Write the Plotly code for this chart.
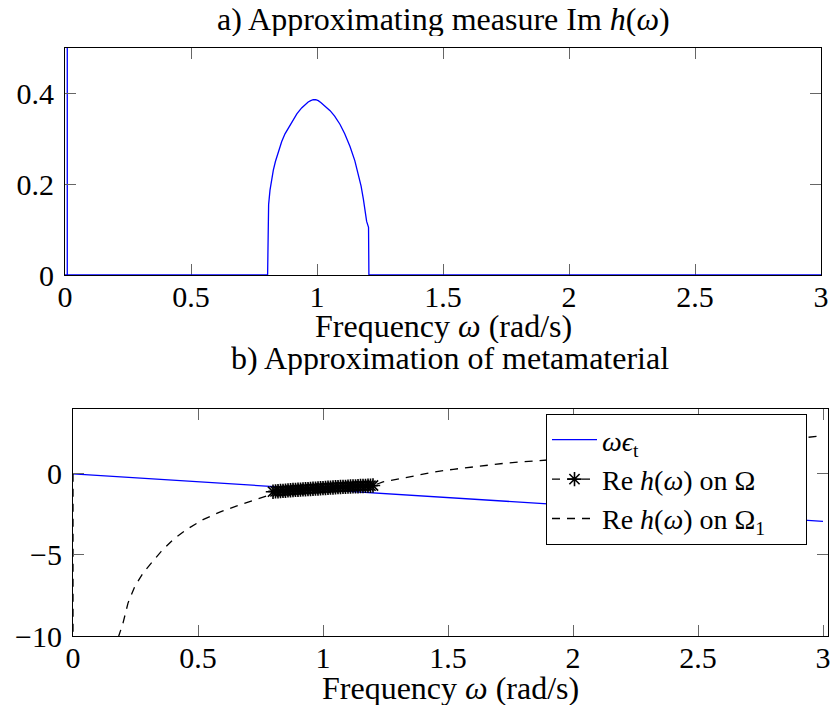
import plotly.graph_objects as go

# ---- panel a) Im h(omega) ----
omega_a = [0.0, 0.009, 0.009, 0.009, 0.804, 0.805, 0.808, 0.8135, 0.82, 0.8267, 0.835,
           0.8466, 0.86, 0.873, 0.89, 0.906, 0.92, 0.939, 0.955, 0.965, 0.975, 0.985, 0.995,
           1.005, 1.015, 1.03, 1.052, 1.07, 1.091, 1.11, 1.131, 1.15, 1.164, 1.175, 1.184,
           1.192, 1.197, 1.2045, 1.206, 3.0]
im_a = [0.0, 0.0, 0.6, 0.0, 0.0, 0.12, 0.155, 0.187, 0.212, 0.231, 0.250,
        0.273, 0.294, 0.311, 0.328, 0.343, 0.355, 0.368, 0.377, 0.381, 0.384, 0.386, 0.386,
        0.384, 0.380, 0.373, 0.362, 0.350, 0.332, 0.311, 0.283, 0.252, 0.224, 0.196, 0.167,
        0.140, 0.118, 0.105, 0.0, 0.0]

# ---- panel b) ----
omega_t = [0.0, 3.0]
eps_line = [0.0, -2.925]

omega_b = [0.80, 0.81, 0.82, 0.83, 0.84, 0.85, 0.86, 0.87, 0.88, 0.89, 0.90,
           0.91, 0.92, 0.93, 0.94, 0.95, 0.96, 0.97, 0.98, 0.99, 1.00,
           1.01, 1.02, 1.03, 1.04, 1.05, 1.06, 1.07, 1.08, 1.09, 1.10,
           1.11, 1.12, 1.13, 1.14, 1.15, 1.16, 1.17, 1.18, 1.19, 1.20]
re_b = [-1.10, -1.08, -1.07, -1.06, -1.05, -1.04, -1.02, -1.01, -1.00, -0.99, -0.98,
        -0.97, -0.96, -0.95, -0.94, -0.93, -0.92, -0.91, -0.90, -0.89, -0.88,
        -0.87, -0.86, -0.85, -0.84, -0.83, -0.82, -0.81, -0.80, -0.80, -0.79,
        -0.78, -0.77, -0.77, -0.76, -0.75, -0.75, -0.74, -0.73, -0.73, -0.72]

omega_c = [0.0, 0.0, 0.17, 0.183, 0.2, 0.22, 0.247, 0.28, 0.313, 0.353, 0.4, 0.453,
           0.52, 0.587, 0.653, 0.72, 0.773, 0.8, 0.9, 1.0, 1.1, 1.2, 1.24, 1.32,
           1.388, 1.455, 1.521, 1.588, 1.655, 1.72, 1.788, 1.888, 2.0, 2.25, 2.5,
           2.75, 3.0]
re_c = [0.0, -12.0, -11.0, -10.0, -9.21, -7.97, -6.95, -6.12, -5.5, -4.78, -4.06, -3.44,
        -2.82, -2.36, -1.99, -1.64, -1.37, -1.12, -0.99, -0.88, -0.79, -0.72, -0.5, -0.25,
        -0.03, 0.14, 0.28, 0.41, 0.53, 0.64, 0.73, 0.85, 0.97, 1.25, 1.6,
        1.95, 2.35]

x_ticks = [0, 0.5, 1, 1.5, 2, 2.5, 3]
x_ticktext = ["0", "0.5", "1", "1.5", "2", "2.5", "3"]
ya_ticks = [0, 0.2, 0.4]
ya_ticktext = ["0", "0.2", "0.4"]
yb_ticks = [0, -5, -10]
yb_ticktext = ["0", "\u22125", "\u221210"]

FONT = "Liberation Serif"
TICK_SIZE = 30
TEXT_SIZE = 32
LEGEND_SIZE = 28

fig = go.Figure()
fig.add_trace(go.Scatter(x=omega_a, y=im_a, mode="lines", line=dict(color="#0000ff", width=1.3),
                         showlegend=False, xaxis="x", yaxis="y"))
fig.add_trace(go.Scatter(x=omega_t, y=eps_line, mode="lines", line=dict(color="#0000ff", width=1.3),
                         name="<i>ωϵ</i><sub>t</sub>", legendrank=1, xaxis="x2", yaxis="y2"))
fig.add_trace(go.Scatter(x=omega_c, y=re_c, mode="lines",
                         line=dict(color="black", width=1.3, dash="8px,7px"),
                         name="Re <i>h</i>(<i>ω</i>) on Ω<sub>1</sub>\u00a0\u00a0\u00a0\u00a0\u00a0",
                         legendrank=3, xaxis="x2", yaxis="y2"))
fig.add_trace(go.Scatter(x=omega_b, y=re_b, mode="lines+markers",
                         line=dict(color="black", width=1.3, dash="8px,7px"),
                         marker=dict(symbol="asterisk-open", size=12, color="black",
                                     line=dict(color="black", width=1.6)),
                         name="Re <i>h</i>(<i>ω</i>) on Ω", legendrank=2,
                         xaxis="x2", yaxis="y2"))

# the page body margin is removed below, so figure pixels = window pixels
W, H = 835, 707


def px(x):
    return x / W


def py(y):
    return 1 - y / H


axis_common = dict(showline=True, linecolor="black", linewidth=1, mirror="allticks",
                   ticks="inside", ticklen=11, tickwidth=1, tickcolor="#666",
                   showgrid=False, zeroline=False, automargin=False,
                   tickfont=dict(family=FONT, size=TICK_SIZE, color="black"))

label_common = dict(xref="paper", yref="paper", showarrow=False, xanchor="center",
                    yanchor="middle", height=34, font=dict(family=FONT, size=TEXT_SIZE))

fig.update_layout(
    width=W, height=H, margin=dict(l=0, r=0, t=0, b=0),
    plot_bgcolor="white", paper_bgcolor="white",
    font=dict(family=FONT, color="black"),
    xaxis=dict(domain=[px(65), px(821)], range=[0, 3], tickvals=x_ticks, ticktext=x_ticktext,
               anchor="y", layer="below traces", ticklabelstandoff=-5, **axis_common),
    yaxis=dict(domain=[py(275), py(48)], range=[0, 0.5], tickvals=ya_ticks,
               ticktext=ya_ticktext, anchor="x", ticklabelstandoff=4, **axis_common),
    xaxis2=dict(domain=[px(73), px(828)], range=[0, 3.02], tickvals=x_ticks, ticktext=x_ticktext,
                anchor="y2", ticklabelstandoff=-5, **axis_common),
    yaxis2=dict(domain=[py(636), py(409)], range=[-10, 4], tickvals=yb_ticks,
                ticktext=yb_ticktext, anchor="x2", ticklabelstandoff=4, **axis_common),
    legend=dict(x=px(546), y=py(414), xanchor="left", yanchor="top",
                bgcolor="white", bordercolor="black", borderwidth=1,
                font=dict(family=FONT, size=LEGEND_SIZE, color="black"), itemwidth=45,
                tracegroupgap=0),
    annotations=[
        dict(text="a) Approximating measure Im <i>h</i>(<i>ω</i>)", x=px(443), y=py(19),
             **label_common),
        dict(text="Frequency <i>ω</i> (rad/s)", x=px(443), y=py(326), **label_common),
        dict(text="b) Approximation of metamaterial", x=px(450), y=py(358), **label_common),
        dict(text="Frequency <i>ω</i> (rad/s)", x=px(450), y=py(688), **label_common),
    ],
)

fig.write_html("out.html", config={"displayModeBar": False},
               post_script="document.body.style.margin = '0px';")
